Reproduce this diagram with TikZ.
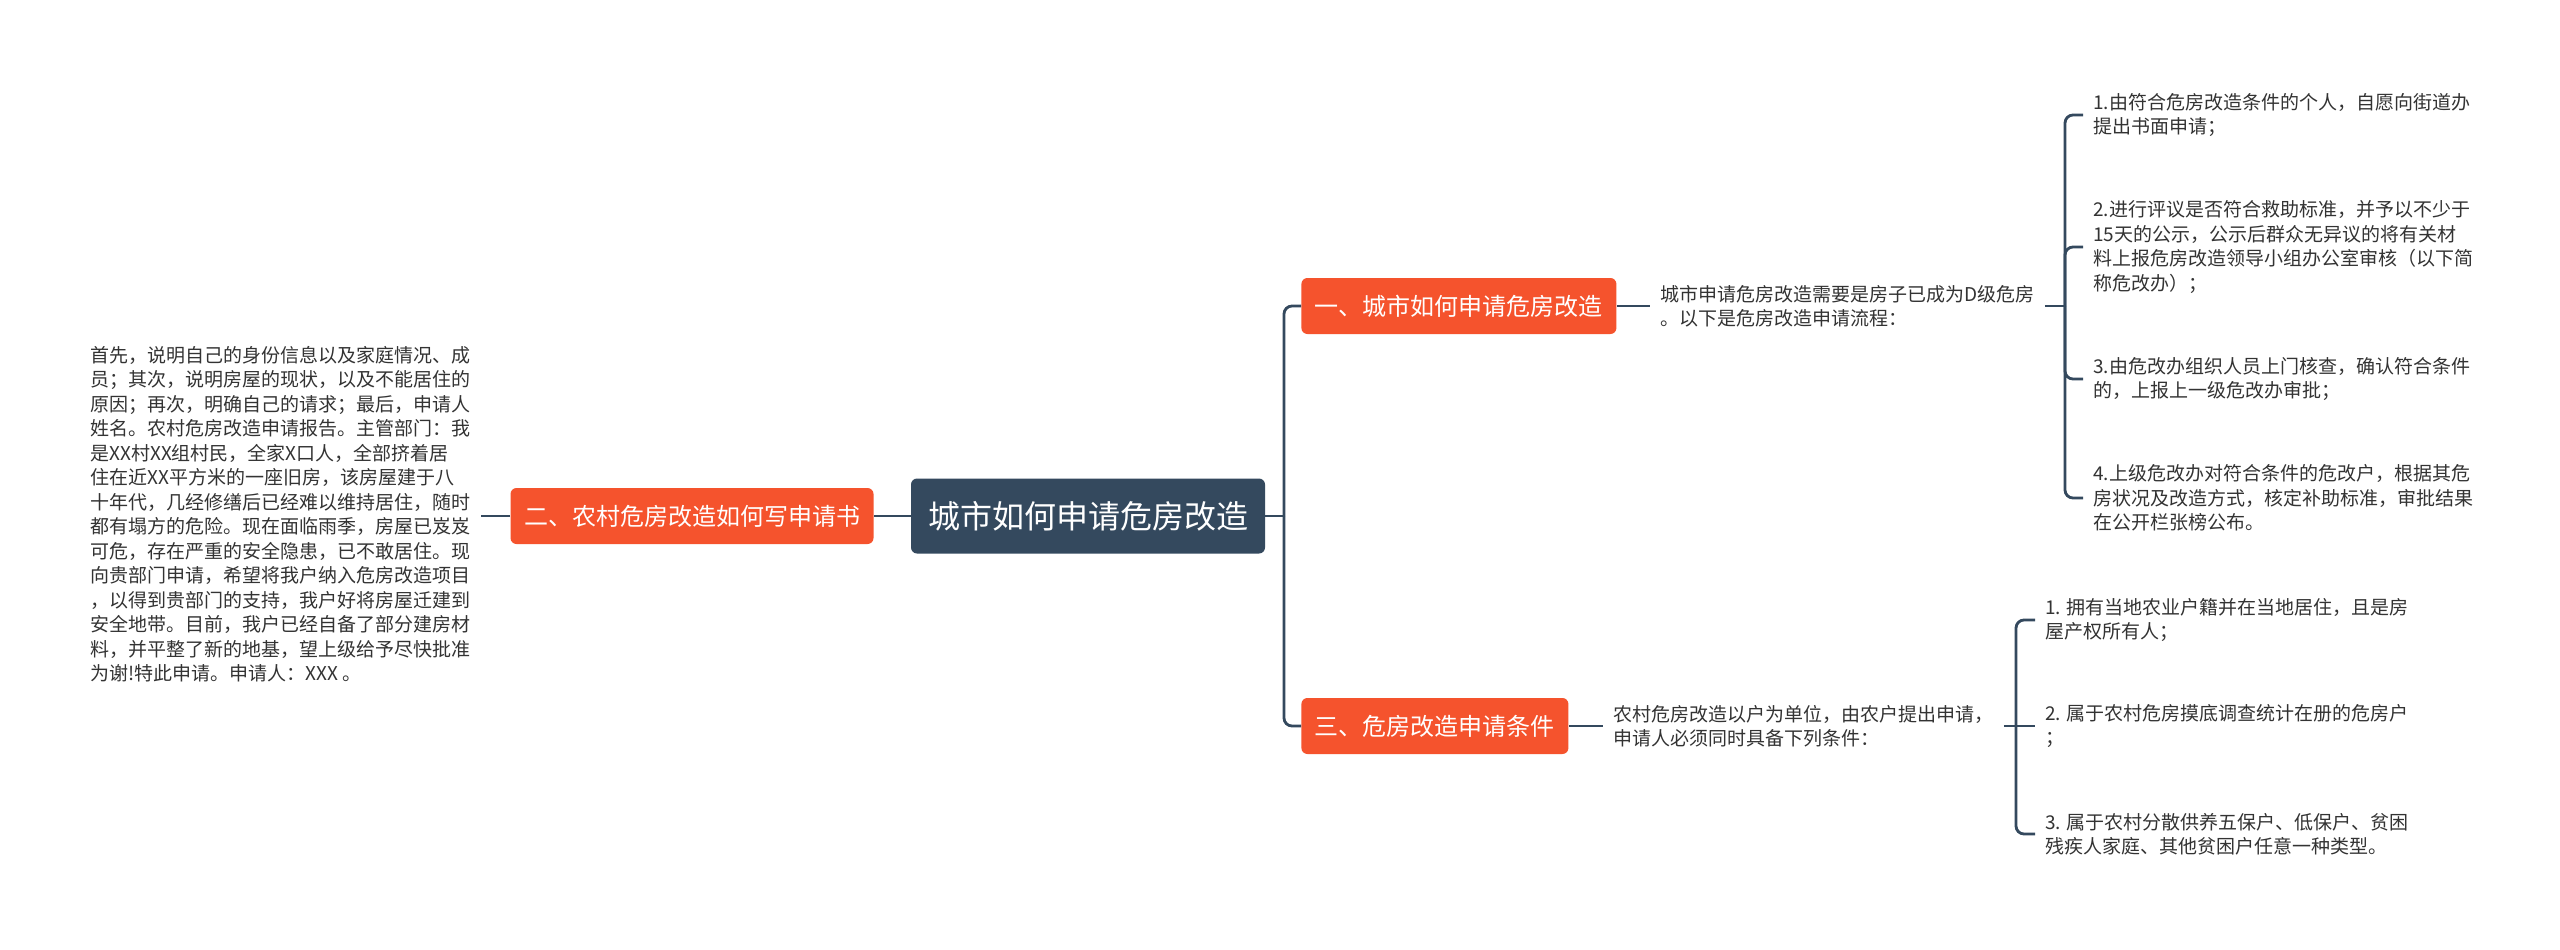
\documentclass[tikz,border=0pt]{standalone}
\usepackage{fontspec}
\setmainfont{Noto Sans CJK SC}
\usepackage{xcolor}
\definecolor{mmSlate}{HTML}{34495E}
\definecolor{mmOrange}{HTML}{F5532D}
\definecolor{mmInk}{HTML}{333333}
\tikzset{
  mmRoot/.style={fill=mmSlate, text=white, rounded corners=3pt, font={\fontsize{16}{19}\selectfont}, inner xsep=8.5pt, inner ysep=0pt, minimum height=37.5pt},
  mmTopic/.style={fill=mmOrange, text=white, rounded corners=3pt, font={\fontsize{12}{14}\selectfont}, inner xsep=6.75pt, inner ysep=0pt, minimum height=28pt},
  mmLeaf/.style={text=mmInk, align=left, anchor=west, font={\fontsize{9.5}{12.25}\selectfont}, inner xsep=5pt, inner ysep=2pt},
  mmLink/.style={draw=mmSlate, line width=1.4pt, rounded corners=4pt}
}
\begin{document}
\begin{tikzpicture}[x=0.5pt,y=-0.5pt]
\path[use as bounding box, fill=white] (0,0) rectangle (2560,949);
\node[mmRoot] (root) at (1088,516) {城市如何申请危房改造};
\node[mmTopic] (tLeft) at (692,516) {二、农村危房改造如何写申请书};
\node[mmTopic, anchor=west] (tOne) at (1301,306) {一、城市如何申请危房改造};
\node[mmTopic, anchor=west] (tThree) at (1301,726) {三、危房改造申请条件};
\node[mmLeaf] (lLetter) at (80,514) {首先，说明自己的身份信息以及家庭情况、成\\员；其次，说明房屋的现状，以及不能居住的\\原因；再次，明确自己的请求；最后，申请人\\姓名。农村危房改造申请报告。主管部门：我\\是XX村XX组村民，全家X口人，全部挤着居\\住在近XX平方米的一座旧房，该房屋建于八\\十年代，几经修缮后已经难以维持居住，随时\\都有塌方的危险。现在面临雨季，房屋已岌岌\\可危，存在严重的安全隐患，已不敢居住。现\\向贵部门申请，希望将我户纳入危房改造项目\\，以得到贵部门的支持，我户好将房屋迁建到\\安全地带。目前，我户已经自备了部分建房材\\料，并平整了新的地基，望上级给予尽快批准\\为谢!特此申请。申请人：XXX 。};
\node[mmLeaf] (lOne) at (1650,306) {城市申请危房改造需要是房子已成为D级危房\\。以下是危房改造申请流程：};
\node[mmLeaf] (lOneA) at (2083,115) {1.由符合危房改造条件的个人，自愿向街道办\\提出书面申请；};
\node[mmLeaf] (lOneB) at (2083,247) {2.进行评议是否符合救助标准，并予以不少于\\15天的公示，公示后群众无异议的将有关材\\料上报危房改造领导小组办公室审核（以下简\\称危改办）；};
\node[mmLeaf] (lOneC) at (2083,379) {3.由危改办组织人员上门核查，确认符合条件\\的，上报上一级危改办审批；};
\node[mmLeaf] (lOneD) at (2083,498) {4.上级危改办对符合条件的危改户，根据其危\\房状况及改造方式，核定补助标准，审批结果\\在公开栏张榜公布。};
\node[mmLeaf] (lThree) at (1603,726) {农村危房改造以户为单位，由农户提出申请，\\申请人必须同时具备下列条件：};
\node[mmLeaf] (lThreeA) at (2035,620) {1. 拥有当地农业户籍并在当地居住，且是房\\屋产权所有人；};
\node[mmLeaf] (lThreeB) at (2035,726) {2. 属于农村危房摸底调查统计在册的危房户\\；};
\node[mmLeaf] (lThreeC) at (2035,834) {3. 属于农村分散供养五保户、低保户、贫困\\残疾人家庭、其他贫困户任意一种类型。};
\coordinate (jRoot) at (1284,516);
\coordinate (jOne) at (2065,306);
\coordinate (jThree) at (2016,726);
\draw[mmLink] (root.west) -- (tLeft.east);
\draw[mmLink] (tLeft.west) -- (tLeft.west -| lLetter.east);
\draw[mmLink] (root.east) -- (jRoot);
\draw[mmLink] (jRoot) |- (tOne.west);
\draw[mmLink] (jRoot) |- (tThree.west);
\draw[mmLink] (tOne.east) -- (lOne.west);
\draw[mmLink] (lOne.east) -- (jOne);
\draw[mmLink] (jOne) |- (lOneA.west);
\draw[mmLink] (jOne) |- (lOneB.west);
\draw[mmLink] (jOne) |- (lOneC.west);
\draw[mmLink] (jOne) |- (lOneD.west);
\draw[mmLink] (tThree.east) -- (lThree.west);
\draw[mmLink] (lThree.east) -- (lThreeB.west);
\draw[mmLink] (jThree) |- (lThreeA.west);
\draw[mmLink] (jThree) |- (lThreeC.west);
\end{tikzpicture}
\end{document}
